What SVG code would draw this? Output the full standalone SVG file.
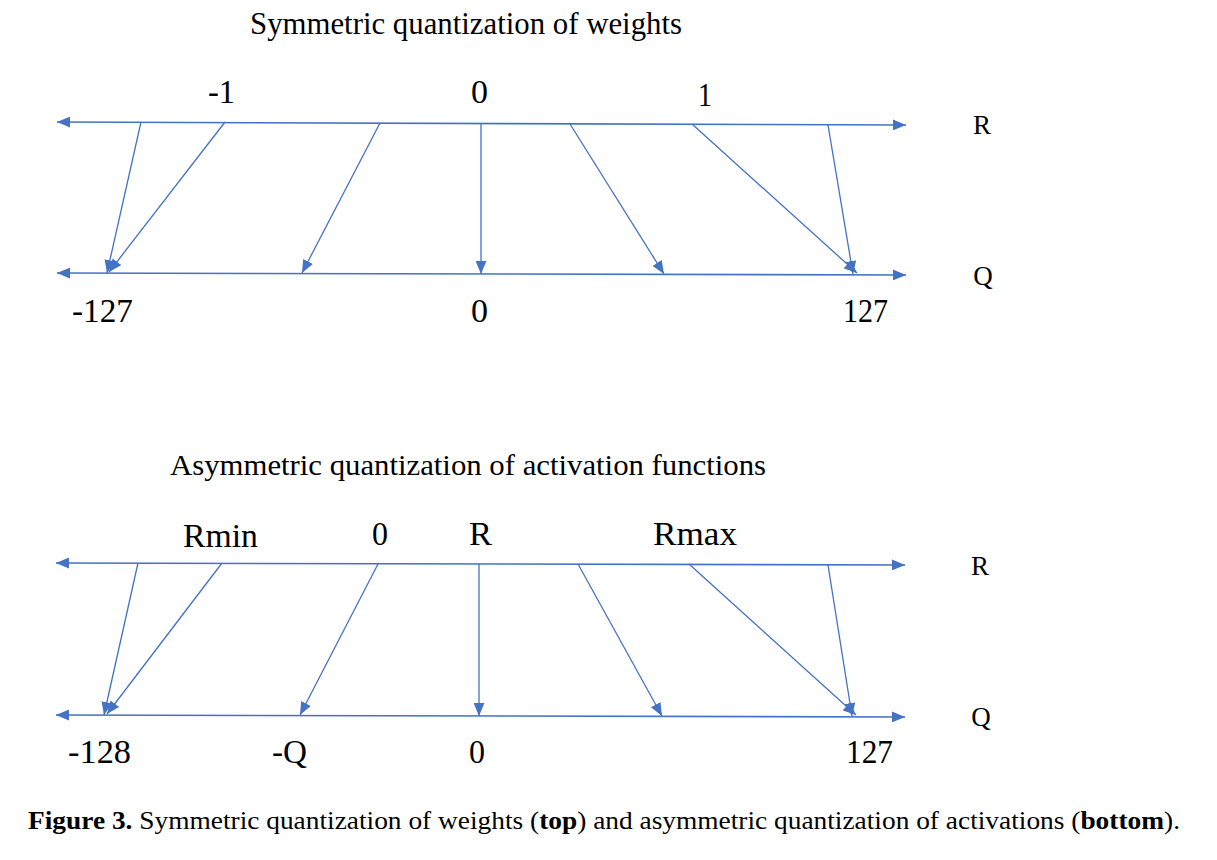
<svg xmlns="http://www.w3.org/2000/svg" width="1217" height="860" viewBox="0 0 1217 860">
<style>
.ax{stroke:#4472C4;stroke-width:1.6;fill:none}
.ar{stroke:#4472C4;stroke-width:1.3;fill:none}
text{font-family:"Liberation Serif","Times New Roman",serif;fill:#000}
.cap{font-size:25px}
</style>
<defs>
<marker id="ah" viewBox="0 0 12 10" refX="12" refY="5" markerUnits="userSpaceOnUse" markerWidth="13" markerHeight="11" orient="auto-start-reverse">
<path d="M0,0 L12,5 L0,10 Z" fill="#4472C4"/>
</marker>
</defs>
<rect width="1217" height="860" fill="#fff"/>

<g id="title-top"><text x="250" y="34" font-size="31" textLength="432" lengthAdjust="spacingAndGlyphs">Symmetric  quantization  of  weights</text></g>
<g id="axis-top-R"><text x="982" y="134" font-size="27" text-anchor="middle">R</text></g>
<g id="axis-top-Q"><text x="983" y="285" font-size="27" text-anchor="middle">Q</text></g>
<g id="labels-top">
<text x="208" y="103" font-size="34" textLength="27" lengthAdjust="spacingAndGlyphs">-1</text>
<text x="471" y="103" font-size="34" textLength="17" lengthAdjust="spacingAndGlyphs">0</text>
<text x="698" y="106" font-size="34" textLength="14" lengthAdjust="spacingAndGlyphs">1</text>
<text x="72" y="322" font-size="34" textLength="61" lengthAdjust="spacingAndGlyphs">-127</text>
<text x="471" y="322" font-size="34" textLength="17" lengthAdjust="spacingAndGlyphs">0</text>
<text x="843" y="322" font-size="34" textLength="45" lengthAdjust="spacingAndGlyphs">127</text>
</g>

<g id="title-bottom"><text x="170" y="475" font-size="30" textLength="596" lengthAdjust="spacingAndGlyphs">Asymmetric  quantization  of activation  functions</text></g>
<g id="axis-bottom-R"><text x="980" y="575" font-size="27" text-anchor="middle">R</text></g>
<g id="axis-bottom-Q"><text x="981" y="726" font-size="27" text-anchor="middle">Q</text></g>
<g id="labels-bottom">
<text x="183" y="547" font-size="33" textLength="75" lengthAdjust="spacingAndGlyphs">Rmin</text>
<text x="372" y="545" font-size="33" textLength="16" lengthAdjust="spacingAndGlyphs">0</text>
<text x="469" y="545" font-size="33" textLength="23" lengthAdjust="spacingAndGlyphs">R</text>
<text x="653" y="545" font-size="33" textLength="84" lengthAdjust="spacingAndGlyphs">Rmax</text>
<text x="68" y="763" font-size="34" textLength="63" lengthAdjust="spacingAndGlyphs">-128</text>
<text x="272" y="763" font-size="34" textLength="35" lengthAdjust="spacingAndGlyphs">-Q</text>
<text x="469" y="763" font-size="34" textLength="16" lengthAdjust="spacingAndGlyphs">0</text>
<text x="846" y="763" font-size="34" textLength="47" lengthAdjust="spacingAndGlyphs">127</text>
</g>

<g id="connectors">
<line class="ax" x1="57" y1="122" x2="906" y2="125" marker-start="url(#ah)" marker-end="url(#ah)"/>
<line class="ax" x1="57" y1="273" x2="906" y2="275" marker-start="url(#ah)" marker-end="url(#ah)"/>
<line class="ar" x1="141" y1="122" x2="107" y2="273" marker-end="url(#ah)"/>
<line class="ar" x1="225" y1="122" x2="109" y2="272" marker-end="url(#ah)"/>
<line class="ar" x1="380" y1="123" x2="302" y2="273" marker-end="url(#ah)"/>
<line class="ar" x1="481" y1="123" x2="481" y2="274" marker-end="url(#ah)"/>
<line class="ar" x1="570" y1="124" x2="664" y2="274" marker-end="url(#ah)"/>
<line class="ar" x1="692" y1="124" x2="857" y2="273" marker-end="url(#ah)"/>
<line class="ar" x1="828" y1="125" x2="853" y2="274" marker-end="url(#ah)"/>

<line class="ax" x1="56" y1="563" x2="905" y2="565" marker-start="url(#ah)" marker-end="url(#ah)"/>
<line class="ax" x1="56" y1="715" x2="905" y2="717" marker-start="url(#ah)" marker-end="url(#ah)"/>
<line class="ar" x1="138" y1="563" x2="104" y2="715" marker-end="url(#ah)"/>
<line class="ar" x1="222" y1="563" x2="107" y2="714" marker-end="url(#ah)"/>
<line class="ar" x1="378" y1="564" x2="300" y2="715" marker-end="url(#ah)"/>
<line class="ar" x1="479" y1="564" x2="479" y2="716" marker-end="url(#ah)"/>
<line class="ar" x1="578" y1="564" x2="662" y2="716" marker-end="url(#ah)"/>
<line class="ar" x1="689" y1="564" x2="856" y2="715" marker-end="url(#ah)"/>
<line class="ar" x1="828" y1="565" x2="852" y2="716" marker-end="url(#ah)"/>
</g>

<g id="caption"><text class="cap" x="28" y="829" textLength="1152" lengthAdjust="spacingAndGlyphs"><tspan font-weight="bold">Figure 3.</tspan> Symmetric quantization of weights (<tspan font-weight="bold">top</tspan>) and asymmetric quantization of activations (<tspan font-weight="bold">bottom</tspan>).</text></g>
</svg>
